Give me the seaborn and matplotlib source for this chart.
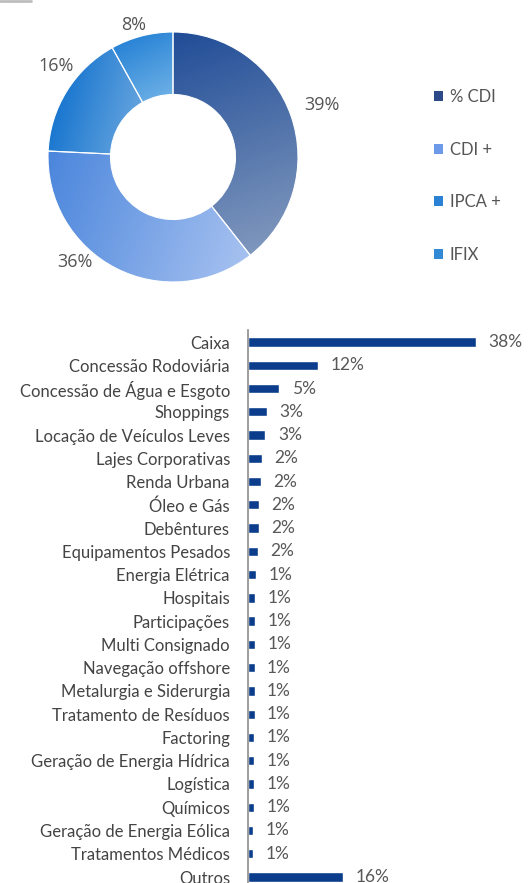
import numpy as np
import pandas as pd
import matplotlib
matplotlib.use("Agg")
import matplotlib.pyplot as plt
import matplotlib.patches as mpatches
from matplotlib.colors import LinearSegmentedColormap
from matplotlib.lines import Line2D
import seaborn as sns

# dados do gráfico de rosca (indexadores)
indexadores = ["% CDI", "CDI +", "IPCA +", "IFIX"]
pct_indexador = [39, 36, 16, 8]
# gradiente de cada fatia: cor escura, cor clara, direção
grad_ini = ["#214d97", "#4b86dc", "#1976cf", "#2a84d6"]
grad_fim = ["#7f97bd", "#a6c1f0", "#63a3de", "#6cb0e6"]
grad_dir = [(0.35, -1.0), (1.0, -0.35), (1.0, -0.3), (0.5, -1.0)]
cores_legenda = ["#2c4a88", "#6d9ae8", "#2b82d4", "#3289d6"]

# dados do gráfico de barras (setores)
setores = ["Caixa", "Concessão Rodoviária", "Concessão de Água e Esgoto", "Shoppings",
           "Locação de Veículos Leves", "Lajes Corporativas", "Renda Urbana", "Óleo e Gás",
           "Debêntures", "Equipamentos Pesados", "Energia Elétrica", "Hospitais",
           "Participações", "Multi Consignado", "Navegação offshore", "Metalurgia e Siderurgia",
           "Tratamento de Resíduos", "Factoring", "Geração de Energia Hídrica", "Logística",
           "Químicos", "Geração de Energia Eólica", "Tratamentos Médicos", "Outros"]
pct_setor = [38.0, 11.7, 5.2, 3.2, 2.9, 2.3, 2.1, 1.8, 1.8, 1.7, 1.3, 1.2,
             1.2, 1.2, 1.1, 1.1, 1.1, 1.0, 1.0, 1.0, 1.0, 0.9, 0.9, 15.8]

df = pd.DataFrame({"Setor": setores, "Pct": pct_setor})

sns.set_theme(style="white")
plt.rcParams["font.family"] = ["Lato", "DejaVu Sans"]

W, H = 528, 883
fig = plt.figure(figsize=(W / 100, H / 100), dpi=100)

# traço cinza no canto superior esquerdo
fig.add_artist(Line2D([0, 31 / W], [1 - 0.5 / H, 1 - 0.5 / H], color="#bdbdbd", lw=2))

# --- rosca ---
cx, cy, r = 173, 157, 125
lim = 1.25
ax_p = fig.add_axes([(cx - lim * r) / W, 1 - (cy + lim * r) / H, 2 * lim * r / W, 2 * lim * r / H])
wedges, textos, autotextos = ax_p.pie(
    pct_indexador, colors=grad_ini, startangle=90, counterclock=False,
    wedgeprops=dict(width=0.5, edgecolor="white", linewidth=0.8),
    autopct=lambda p: f"{p:.0f}%", pctdistance=1.16,
    textprops=dict(fontsize=13, color="#555555", family=["Open Sans", "DejaVu Sans"]))

# preenchimento em gradiente recortado em cada fatia
n = 400
xs = np.linspace(-1, 1, n)
xx, yy = np.meshgrid(xs, xs[::-1])
pts = np.column_stack([xx.ravel(), yy.ravel()])
for w, c0, c1, d in zip(wedges, grad_ini, grad_fim, grad_dir):
    caminho = w.get_path()
    dentro = caminho.contains_points(pts).reshape(xx.shape)
    proj = xx * d[0] + yy * d[1]
    pmin, pmax = proj[dentro].min(), proj[dentro].max()
    t = (proj - pmin) / (pmax - pmin)
    cmap = LinearSegmentedColormap.from_list("g", [c0, c1])
    im = ax_p.imshow(t, cmap=cmap, extent=(-1, 1, -1, 1), vmin=0, vmax=1,
                     interpolation="bilinear", zorder=0.5)
    im.set_clip_path(w)
    w.set_facecolor("none")

# ajuste fino da posição dos rótulos
fator = [1.09, 0.99, 1.02, 0.95]
giro = [0, -16, -6, 2]
for t, v, f, g in zip(autotextos, pct_indexador, fator, giro):
    t.set_text(f"{v}%")
    x, y = t.get_position()
    ang = np.deg2rad(g)
    x2, y2 = x * np.cos(ang) - y * np.sin(ang), x * np.sin(ang) + y * np.cos(ang)
    t.set_position((x2 * f, y2 * f))
ax_p.set_xlim(-lim, lim)
ax_p.set_ylim(-lim, lim)
ax_p.set_aspect("equal")
ax_p.axis("off")

handles = [mpatches.Patch(facecolor=c, edgecolor="none") for c in cores_legenda]
fig.legend(handles, indexadores, loc="upper left", bbox_to_anchor=(419 / W, 1 - 74 / H),
           frameon=False, fontsize=12, labelspacing=2.2, handlelength=0.55, handleheight=0.55,
           handletextpad=0.4, labelcolor="#555555")

# --- barras ---
top_px, passo = 342, (877 - 342) / 23
esq_px = 248
xmax = 46
ax_b = fig.add_axes([esq_px / W, 1 - (top_px + 23.25 * passo) / H,
                     xmax * 6.0 / W, 23.75 * passo / H])
sns.barplot(data=df, x="Pct", y="Setor", orient="h", color="#0b3d8c", width=0.4,
            saturation=1, ax=ax_b)
ax_b.set_xlim(0, xmax)
ax_b.set_ylim(23.25, -0.5)
ax_b.bar_label(ax_b.containers[0], labels=[f"{v:.0f}%" for v in pct_setor],
               padding=9, fontsize=12.5, color="#585858")
ax_b.set_xlabel("")
ax_b.set_ylabel("")
ax_b.set_xticks([])
ax_b.tick_params(axis="y", length=0, pad=13, labelsize=12, labelcolor="#444444")
for lado in ["top", "right", "bottom"]:
    ax_b.spines[lado].set_visible(False)
ax_b.spines["left"].set_color("#8c8c8c")
ax_b.spines["left"].set_linewidth(1.2)

fig.savefig("out.png", dpi=100)
